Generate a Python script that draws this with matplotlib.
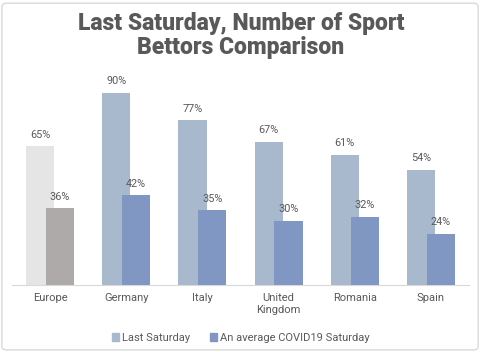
import numpy as np
import matplotlib.pyplot as plt
from matplotlib.patches import FancyBboxPatch, Patch

# 数据
categories = ['Europe', 'Germany', 'Italy', 'United\nKingdom', 'Romania', 'Spain']
last_saturday = [65, 90, 77, 67, 61, 54]
covid_saturday = [36, 42, 35, 30, 32, 24]
series_names = ['Last Saturday', 'An average COVID19 Saturday']

light_colors = ['#e5e5e5'] + ['#a8b8cd'] * 5
dark_colors = ['#aeaaaa'] + ['#8097c3'] * 5
text_color = '#595959'

plt.rcParams['font.family'] = ['Roboto', 'DejaVu Sans']

fig = plt.figure(figsize=(4.82, 3.52), dpi=100)
fig.patches.append(FancyBboxPatch((0.004, 0.006), 0.988, 0.985, boxstyle='round,pad=0,rounding_size=0.01',
                                  transform=fig.transFigure, fill=False, edgecolor='#d9d9d9', lw=1))

ax = fig.add_axes([0.025, 0.19, 0.948, 0.608])
x = np.arange(len(categories))
w = 0.37
b1 = ax.bar(x - 0.13, last_saturday, w, color=light_colors, zorder=2)
b2 = ax.bar(x + 0.13, covid_saturday, w, color=dark_colors, zorder=3)

for rect, v in zip(b1, last_saturday):
    ax.text(rect.get_x() + rect.get_width() / 2, v + 3, f'{v}%', ha='center', va='bottom',
            fontsize=7.8, color=text_color)
for rect, v in zip(b2, covid_saturday):
    ax.text(rect.get_x() + rect.get_width() / 2, v + 3, f'{v}%', ha='center', va='bottom',
            fontsize=7.8, color=text_color)

ax.set_xlim(-0.5, len(categories) - 0.5)
ax.set_ylim(0, 100)
ax.set_xticks(x)
ax.set_xticklabels(categories, fontsize=8, color=text_color, linespacing=1.25)
ax.tick_params(axis='x', length=0, pad=6)
ax.set_yticks([])
for s in ['top', 'right', 'left']:
    ax.spines[s].set_visible(False)
ax.spines['bottom'].set_color('#d9d9d9')

fig.text(0.5, 0.965, 'Last Saturday, Number of Sport\nBettors Comparison', ha='center', va='top',
         fontsize=16.5, fontweight='black', color=text_color, linespacing=1.05)

handles = [Patch(color='#a8b8cd'), Patch(color='#8097c3')]
fig.legend(handles, series_names, loc='center', bbox_to_anchor=(0.5, 0.04), ncol=2, frameon=False,
           fontsize=8, labelcolor=text_color, handlelength=0.6, handleheight=0.6, handletextpad=0.3,
           columnspacing=1.8)

plt.savefig('out.png', dpi=100)
